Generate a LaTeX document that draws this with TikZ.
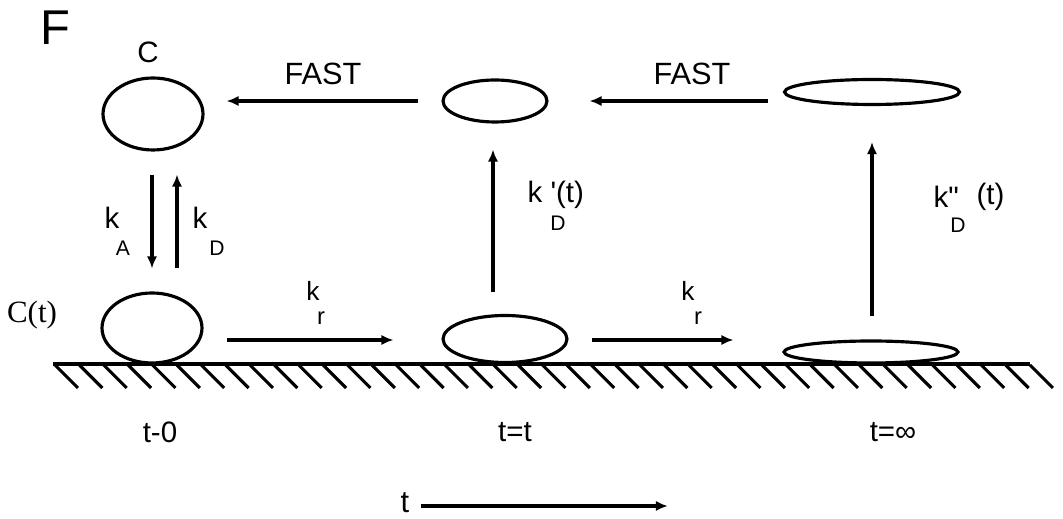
\documentclass[tikz,border=0pt]{standalone}
\usepackage{fontspec}
\newfontfamily\arialf{Liberation Sans}
\newfontfamily\timesf{Liberation Serif}
\usetikzlibrary{shapes.geometric,arrows.meta,calc}
\begin{document}
\begin{tikzpicture}[x=0.02cm,y=-0.02cm,
  line width=1.8pt,
  cell/.style={draw,ellipse,inner sep=0pt,line width=1.8pt},
  arr/.style={-{Latex[length=6.8pt,width=5.8pt]},line width=1.8pt},
  lbl/.style={inner sep=0pt,font=\arialf\fontsize{16.8}{19}\selectfont},
  sub/.style={inner sep=0pt,font=\arialf\fontsize{12}{14}\selectfont},
  big/.style={inner sep=0pt,font=\arialf\fontsize{17.5}{20}\selectfont}]
\useasboundingbox (0,0) rectangle (1063,519);
% cells
\node[cell,minimum width=2cm,minimum height=1.44cm] (tl) at (153,114) {};
\node[cell,minimum width=2.08cm,minimum height=0.84cm] (tm) at (495,101) {};
\node[cell,minimum width=3.5cm,minimum height=0.5cm] (tr) at (872,92) {};
\node[cell,minimum width=2cm,minimum height=1.4cm] (bl) at (152,328) {};
\node[cell,minimum width=2.48cm,minimum height=0.94cm] (bm) at (505,339) {};
\node[cell,minimum width=3.48cm,minimum height=0.44cm] (br) at (871,352) {};
% ground
\coordinate (g0) at (53,364);
\coordinate (g1) at (1030,364);
\draw (g0) -- (g1);
\foreach \i in {0,...,40} {
  \draw ($(g0)+(2+\i*24.375,1)$) -- +(23,23);
}
% arrows
\draw[arr] ($(tm.west)+(-23,0)$) -- ($(tl.east|-tm.west)+(22,0)$);
\draw[arr] ($(tr.west|-tm.east)+(-15,0)$) -- ($(tm.east)+(41,0)$);
\draw[arr] ($(tl.south)+(-1,23)$) -- ($(bl.north)+(0,-23)$);
\draw[arr] ($(bl.north)+(25,-23)$) -- ($(tl.south)+(24,23)$);
\draw[arr] ($(bl.east)+(23,12)$) -- ($(bm.west)+(-48,1)$);
\draw[arr] ($(bm.north)+(-12,-22)$) -- ($(tm.south)+(-2,26)$);
\draw[arr] ($(bm.east)+(23,1)$) -- ($(br.west)+(-49,-12)$);
\draw[arr] ($(br.north)+(1,-23)$) -- ($(tr.south)+(0,36)$);
% labels
\node[inner sep=0pt,font=\arialf\fontsize{27.8}{30}\selectfont] (F) at (55,28) {F};
\node[lbl] (Clab) at (148,52) {C};
\node[big] (fast1) at (323,74) {FAST};
\node[big] (fast2) at (692,74) {FAST};
\node[lbl] (kA) at (112,218) {k};
\node[sub] (A) at (123,248) {A};
\node[lbl] (kD) at (200,218) {k};
\node[sub] (D) at (217,248) {D};
\node[inner sep=0pt,font=\timesf\fontsize{17.6}{20}\selectfont] (Ct) at (32,315) {C(t)};
\node[inner sep=0pt,font=\arialf\fontsize{15}{17}\selectfont] (kr1) at (313,291) {k};
\node[inner sep=0pt,font=\arialf\fontsize{13.5}{16}\selectfont] (r1) at (321,318) {r};
\node[inner sep=0pt,font=\arialf\fontsize{15}{17}\selectfont] (kr2) at (688,291) {k};
\node[inner sep=0pt,font=\arialf\fontsize{13.5}{16}\selectfont] (r2) at (698,318) {r};
\node[lbl,anchor=west] (kp) at (526,195) {k '(t)};
\node[sub] (Dp) at (558,223) {D};
\node[lbl,anchor=west] (kpp) at (932,197) {k"};
\node[lbl,anchor=west] (tpp) at (975,197) {(t)};
\node[sub] (Dpp) at (958,225) {D};
\node[lbl] (t0) at (160,432) {t-0};
\node[lbl] (tt) at (515,432) {t=t};
\node[lbl] (tinf) at (893,432) {t=∞};
\node[big] (taxis) at (405,503) {t};
\draw[arr] ($(taxis.east)+(10,3)$) -- ($(taxis.east)+(257,3)$);
\end{tikzpicture}
\end{document}
